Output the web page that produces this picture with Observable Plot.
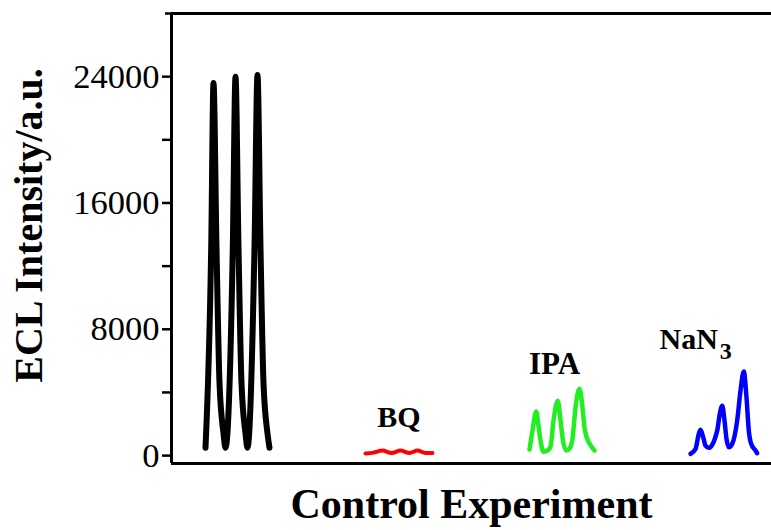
<!DOCTYPE html>
<html>
<head>
<meta charset="utf-8">
<script src="https://cdn.jsdelivr.net/npm/d3@7"></script>
<script src="https://cdn.jsdelivr.net/npm/@observablehq/plot@0.6"></script>
<style>
  html, body { margin: 0; padding: 0; background: #ffffff; }
  #chart { width: 771px; height: 530px; overflow: hidden; }
</style>
</head>
<body>
<div id="chart"></div>
<script>
// ECL intensity traces (time in arbitrary units, intensity in a.u.)
const controlT = [34, 39.7, 42, 45, 48, 52, 54, 61.3, 64, 67, 70, 74, 76, 83, 86, 89, 92, 96, 98];
const controlV = [500, 13200, 23600, 13200, 4600, 1400, 500, 13200, 24000, 13200, 4600, 1400, 500, 13200, 24100, 13200, 4600, 1400, 500];

const bqT = [194, 202, 211, 220, 229, 238, 246, 254, 261];
const bqV = [130, 190, 320, 160, 320, 160, 320, 160, 160];

const ipaT = [358, 361, 364.7, 367, 369, 372, 376, 379, 382, 386.3, 389, 392, 395, 398, 401, 404, 408, 411, 413, 415, 418, 423];
const ipaV = [380, 1580, 2790, 1900, 950, 250, 320, 570, 2220, 3480, 2220, 760, 320, 440, 1080, 3040, 4240, 3040, 1770, 1200, 760, 320];

const nan3T = [519, 524, 527.3, 529, 531.7, 534, 537.3, 545.7, 548.3, 550.7, 553, 555, 557.3, 560.7, 565.7, 569, 572.3, 575, 577.3, 579.7, 584, 585.7];
const nan3V = [110, 420, 1370, 1630, 1160, 630, 490, 1580, 2640, 3160, 2220, 1060, 530, 740, 2220, 4110, 5320, 3690, 1580, 740, 320, 150];

const seriesNames = ["Control", "BQ", "IPA", "NaN3"];
const seriesColors = ["#000000", "#ff0000", "#22ee22", "#0000ff"];
const seriesWidths = [6, 4, 4.5, 4.5];

const yTicks = [0, 4000, 8000, 12000, 16000, 20000, 24000];
const yLabelled = [0, 8000, 16000, 24000];

const yTitle = "ECL Intensity/a.u.";
const xTitle = "Control Experiment";

const seriesT = [controlT, bqT, ipaT, nan3T];
const seriesV = [controlV, bqV, ipaV, nan3V];

const rows = seriesNames.map((name, i) => seriesT[i].map((t, j) => ({name, t, v: seriesV[i][j]})));

function peakLabel(i) {
  const T = seriesT[i], V = seriesV[i];
  return [{t: (d3.min(T) + d3.max(T)) / 2, v: d3.max(V)}];
}

const font = "'Liberation Serif', 'Times New Roman', Times, serif";

const lineMarks = rows.map((data, i) => Plot.line(data, {
  x: "t", y: "v",
  stroke: seriesColors[i],
  strokeWidth: seriesWidths[i],
  curve: "monotone-x",
  strokeLinejoin: "round",
  strokeLinecap: "round"
}));

const chart = Plot.plot({
  width: 771,
  height: 530,
  marginLeft: 171,
  marginTop: 13,
  marginBottom: 67,
  marginRight: 0,
  style: {fontFamily: font, fontSize: "34px", background: "#ffffff", color: "#000000"},
  x: {domain: [0, 600], axis: null},
  y: {domain: [-500, 28000], axis: null},
  marks: [
    ...lineMarks,
    Plot.axisY({
      ticks: yTicks,
      tickFormat: d => yLabelled.includes(d) ? String(d) : "",
      tickSize: 9,
      tickPadding: 3,
      strokeWidth: 2.5,
      fontSize: 34.5,
      label: null
    }),
    Plot.axisY({ticks: [28000], tickFormat: () => "", tickSize: 6, strokeWidth: 2.5, label: null}),
    Plot.ruleX([0], {strokeWidth: 3}),
    Plot.ruleY([-500], {strokeWidth: 3}),
    Plot.ruleY([28000], {strokeWidth: 3}),
    Plot.text(peakLabel(1), {x: "t", y: "v", text: () => "BQ", dy: -24, lineAnchor: "bottom", fontSize: 30, fontWeight: "bold"}),
    Plot.text(peakLabel(2), {x: "t", y: "v", text: () => "IPA", dx: -7.5, dy: -15, lineAnchor: "bottom", fontSize: 31, fontWeight: "bold"}),
    Plot.text(peakLabel(3), {x: "t", y: "v", text: () => "NaN", dx: -6, dy: -23, lineAnchor: "bottom", textAnchor: "end", fontSize: 30, fontWeight: "bold"}),
    Plot.text(peakLabel(3), {x: "t", y: "v", text: () => "3", dx: -4, dy: -13, lineAnchor: "bottom", textAnchor: "start", fontSize: 24, fontWeight: "bold"}),
    Plot.text([yTitle], {frameAnchor: "left", rotate: -90, dx: -142, dy: -13, fontSize: 40, fontWeight: "bold", textAnchor: "middle", lineAnchor: "middle"}),
    Plot.text([xTitle], {frameAnchor: "bottom", dy: 54, lineAnchor: "bottom", fontSize: 42, fontWeight: "bold"})
  ]
});

document.getElementById("chart").appendChild(chart);
</script>
</body>
</html>
